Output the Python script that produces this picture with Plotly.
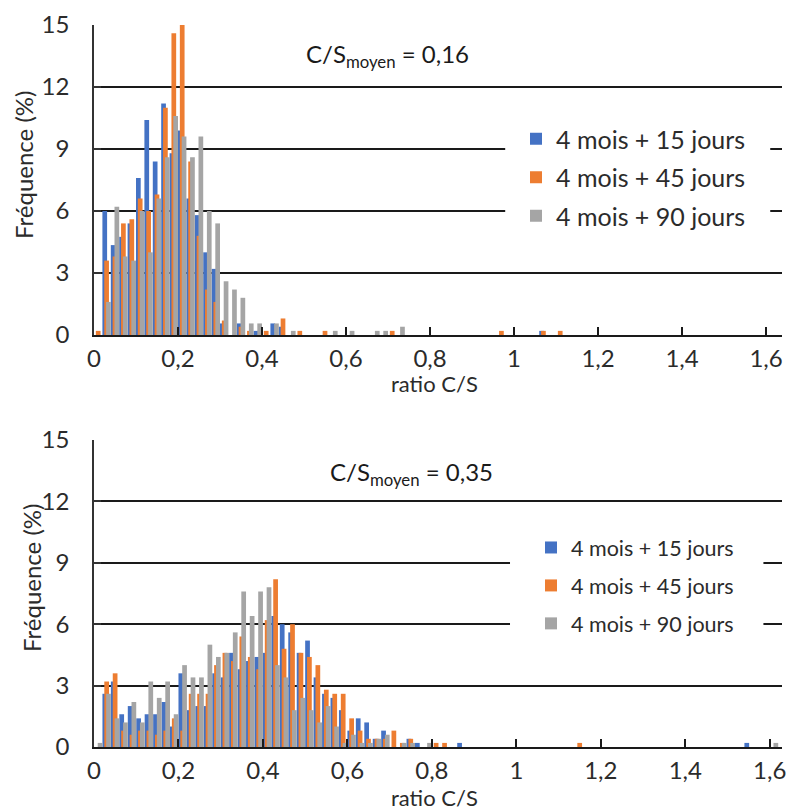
import plotly.graph_objects as go

# ---------------- data ----------------
N_BINS = 82
bins = [round(0.01 + 0.02 * i, 2) for i in range(N_BINS)]  # bin centres of C/S ratio (width 0.02)

series_names = ["4 mois + 15 jours", "4 mois + 45 jours", "4 mois + 90 jours"]
colors = ["#4472C4", "#ED7D31", "#A5A5A5"]

# top panel (C/S moyen = 0,16)
top_15 = [0, 6.0, 4.35, 4.75, 5.4, 7.6, 10.4, 8.4, 11.2, 8.8,
          9.9, 6.6, 5.8, 4.0, 3.2, 0.56, 0, 0.56, 0, 0.2,
          0, 0.56, 0.4, 0, 0, 0, 0, 0, 0, 0,
          0, 0, 0, 0, 0, 0, 0, 0, 0, 0,
          0, 0, 0, 0, 0, 0, 0, 0, 0, 0,
          0, 0, 0, 0.2, 0, 0, 0, 0, 0, 0,
          0, 0, 0, 0, 0, 0, 0, 0, 0, 0,
          0, 0, 0, 0, 0, 0, 0, 0, 0, 0,
          0, 0]
top_45 = [0.2, 3.6, 3.8, 5.4, 5.6, 6.6, 6.0, 6.8, 11.0, 14.6,
          15.0, 8.4, 4.8, 2.2, 1.6, 0.7, 0, 0.4, 0.2, 0,
          0.2, 0, 0.8, 0, 0.2, 0, 0, 0.2, 0, 0,
          0, 0, 0, 0, 0, 0.2, 0, 0, 0, 0,
          0, 0, 0, 0, 0, 0, 0, 0, 0.2, 0,
          0, 0, 0, 0.2, 0, 0.2, 0, 0, 0, 0,
          0, 0, 0, 0, 0, 0, 0, 0, 0, 0,
          0, 0, 0, 0, 0, 0, 0, 0, 0, 0,
          0, 0]
top_90 = [0, 1.6, 6.2, 3.8, 3.6, 6.0, 4.0, 6.6, 8.6, 10.6,
          9.6, 8.6, 9.6, 6.0, 5.4, 2.6, 2.2, 1.8, 0.56, 0.56,
          0, 0.56, 0, 0.2, 0, 0, 0, 0, 0.2, 0,
          0.2, 0, 0, 0.2, 0.2, 0, 0.4, 0, 0, 0,
          0, 0, 0, 0, 0, 0, 0, 0, 0, 0,
          0, 0, 0, 0, 0, 0, 0, 0, 0, 0,
          0, 0, 0, 0, 0, 0, 0, 0, 0, 0,
          0, 0, 0, 0, 0, 0, 0, 0, 0, 0,
          0, 0]

# bottom panel (C/S moyen = 0,35)
bot_15 = [0, 2.6, 3.2, 1.6, 2.0, 1.4, 1.6, 1.6, 2.2, 1.0,
          3.6, 1.8, 2.0, 2.0, 3.6, 3.4, 4.6, 3.8, 4.2, 4.4,
          4.6, 6.4, 6.0, 5.6, 4.6, 5.2, 3.4, 2.6, 2.4, 1.8,
          0.8, 1.4, 1.2, 0.4, 0.8, 0, 0, 0.4, 0.2, 0,
          0, 0, 0, 0.2, 0, 0, 0, 0, 0, 0,
          0, 0, 0, 0, 0, 0, 0, 0, 0, 0,
          0, 0, 0, 0, 0, 0, 0, 0, 0, 0,
          0, 0, 0, 0, 0, 0, 0, 0.2, 0, 0,
          0, 0]
bot_45 = [0, 3.2, 3.6, 0.8, 0.6, 0.8, 0.8, 0.6, 0.8, 1.4,
          0.8, 2.6, 2.6, 2.6, 4.0, 4.6, 4.2, 5.4, 4.4, 3.8,
          6.2, 8.2, 4.8, 6.0, 4.6, 4.4, 4.0, 2.8, 2.6, 2.6,
          1.4, 0.8, 0.4, 0.4, 0.4, 0.8, 0.2, 0.4, 0, 0,
          0.2, 0.2, 0, 0, 0, 0, 0, 0, 0, 0,
          0, 0, 0, 0, 0, 0, 0, 0.2, 0, 0,
          0, 0, 0, 0, 0, 0, 0, 0, 0, 0,
          0, 0, 0, 0, 0, 0, 0, 0, 0, 0,
          0, 0]
bot_90 = [0.2, 2.6, 1.4, 1.2, 2.2, 1.2, 3.2, 2.4, 3.2, 1.6,
          4.0, 3.4, 3.4, 5.0, 4.4, 4.6, 5.6, 7.6, 6.4, 7.6,
          7.8, 4.0, 3.4, 1.8, 2.4, 1.8, 1.2, 2.0, 1.0, 0.2,
          0.6, 0.2, 0.2, 0.4, 0.6, 0, 0.2, 0.2, 0, 0.2,
          0, 0, 0, 0, 0, 0, 0, 0, 0, 0,
          0, 0, 0, 0, 0, 0, 0, 0, 0, 0,
          0, 0, 0, 0, 0, 0, 0, 0, 0, 0,
          0, 0, 0, 0, 0, 0, 0, 0, 0, 0,
          0.2, 0]

x_ticks = [0, 0.2, 0.4, 0.6, 0.8, 1.0, 1.2, 1.4, 1.6]
y_ticks = [0, 3, 6, 9, 12, 15]
mean_top = "0,16"
mean_bot = "0,35"

# ---------------- figure ----------------
FONT = "Lato"
TXT = "#2b2b2b"
BAR_W = 0.0112
OFFSETS = [-0.0100, -0.0056, -0.0012]

fig = go.Figure()
panels = [
    ([top_15, top_45, top_90], "x", "y", "legend"),
    ([bot_15, bot_45, bot_90], "x2", "y2", "legend2"),
]
for vals, xa, ya, lg in panels:
    for i, v in enumerate(vals):
        fig.add_trace(go.Bar(
            x=bins, y=v, name=series_names[i],
            marker=dict(color=colors[i], line=dict(width=0)),
            width=BAR_W, offset=OFFSETS[i],
            xaxis=xa, yaxis=ya, legend=lg, legendgroup=lg + str(i),
        ))

# the page body adds an 8 px margin around the figure
OFF = 8
W, H = 794 - OFF, 812 - OFF
PLOT_L, PLOT_R, PLOT_T, PLOT_B = 94, 782, 25, 747     # page pixels of the plotting area
ML, MR = PLOT_L - OFF, W - (PLOT_R - OFF)
MT, MB = PLOT_T - OFF, H - (PLOT_B - OFF)
PW, PH = W - ML - MR, H - MT - MB


def px_x(p):
    return (p - OFF - ML) / PW


def px_y(p):
    return (PLOT_B - p) / PH


xcommon = dict(
    tickmode="array", tickvals=x_ticks, ticks="inside", ticklen=8, tickwidth=2,
    tickcolor="#1a1a1a", showline=True, linecolor="#1a1a1a", linewidth=2,
    showgrid=False, zeroline=False, automargin=False, ticklabelstandoff=1,
    tickfont=dict(family=FONT, size=24, color=TXT),
)
ycommon = dict(
    tickmode="array", tickvals=y_ticks, range=[0, 15], ticks="inside", ticklen=7,
    tickwidth=1.5, tickcolor="#333333", showline=True, linecolor="#333333", linewidth=1.5,
    showgrid=True, gridcolor="#1a1a1a", gridwidth=2, zeroline=False, automargin=False,
    tickfont=dict(family=FONT, size=24, color=TXT), ticklabelstandoff=18,
)
x_out = dict(tickmode="array", tickvals=x_ticks, ticks="outside", ticklen=10, tickwidth=2,
             tickcolor="#1a1a1a", showticklabels=False, showgrid=False, zeroline=False,
             showline=False, automargin=False)
y_out = dict(tickmode="array", tickvals=y_ticks, range=[0, 15], ticks="outside", ticklen=8,
             tickwidth=1.5, tickcolor="#333333", showticklabels=False, showgrid=False,
             zeroline=False, showline=False, automargin=False)

top_dom = [px_y(335), 1.0]
bot_dom = [0.0, px_y(440)]
XR_TOP = [0, 1.638]
XR_BOT = [0, 1.629]

fig.update_layout(
    width=W, height=H,
    margin=dict(l=ML, r=MR, t=MT, b=MB, autoexpand=False),
    paper_bgcolor="white", plot_bgcolor="white",
    barmode="overlay",
    separators=", ",
    font=dict(family=FONT, color=TXT),
    xaxis=dict(domain=[0, 1], anchor="y", range=XR_TOP, **xcommon),
    yaxis=dict(domain=top_dom, anchor="x", **ycommon),
    xaxis2=dict(domain=[0, 1], anchor="y2", range=XR_BOT, **xcommon),
    yaxis2=dict(domain=bot_dom, anchor="x2", **ycommon),
    # overlay axes giving the outer half of the crossing tick marks
    xaxis3=dict(overlaying="x", anchor="y", range=XR_TOP, **x_out),
    yaxis3=dict(overlaying="y", anchor="x", **y_out),
    xaxis4=dict(overlaying="x2", anchor="y2", range=XR_BOT, **x_out),
    yaxis4=dict(overlaying="y2", anchor="x2", **y_out),
    legend=dict(x=px_x(516), y=px_y(116), xanchor="left", yanchor="top",
                bgcolor="rgba(0,0,0,0)", traceorder="grouped", tracegroupgap=3,
                font=dict(family=FONT, size=25, color=TXT)),
    legend2=dict(x=px_x(531), y=px_y(527), xanchor="left", yanchor="top",
                 bgcolor="rgba(0,0,0,0)", traceorder="grouped", tracegroupgap=7,
                 font=dict(family=FONT, size=21.5, color=TXT)),
    showlegend=True,
)

# white panels behind the legends (they hide the gridlines there, as in the original)
fig.add_shape(type="rect", xref="x", yref="y", x0=0.979, x1=1.61, y0=4.9, y1=10.5,
              fillcolor="white", line=dict(width=0), layer="between")
fig.add_shape(type="rect", xref="x2", yref="y2", x0=0.985, x1=1.585, y0=4.6, y1=10.6,
              fillcolor="white", line=dict(width=0), layer="between")

ann = []
for (x, y) in [(px_x(23), px_y(165)), (px_x(31), px_y(578))]:
    ann.append(dict(x=x, y=y, xref="paper", yref="paper", text="Fréquence (%)", textangle=-90,
                    xanchor="center", yanchor="middle",
                    showarrow=False, font=dict(family=FONT, size=24, color=TXT)))
for y in [px_y(383), px_y(797)]:
    ann.append(dict(x=px_x(434), y=y, xref="paper", yref="paper", text="ratio C/S",
                    xanchor="center", yanchor="middle",
                    showarrow=False, font=dict(family=FONT, size=22, color=TXT)))
ann.append(dict(x=px_x(387), y=px_y(55), xref="paper", yref="paper",
                text="C/S<sub>moyen</sub> = " + mean_top, showarrow=False,
                xanchor="center", yanchor="middle",
                font=dict(family=FONT, size=24, color="#1a1a1a")))
ann.append(dict(x=px_x(411), y=px_y(473), xref="paper", yref="paper",
                text="C/S<sub>moyen</sub> = " + mean_bot, showarrow=False,
                xanchor="center", yanchor="middle",
                font=dict(family=FONT, size=24, color="#1a1a1a")))
fig.update_layout(annotations=ann)

fig.write_html("out.html")
